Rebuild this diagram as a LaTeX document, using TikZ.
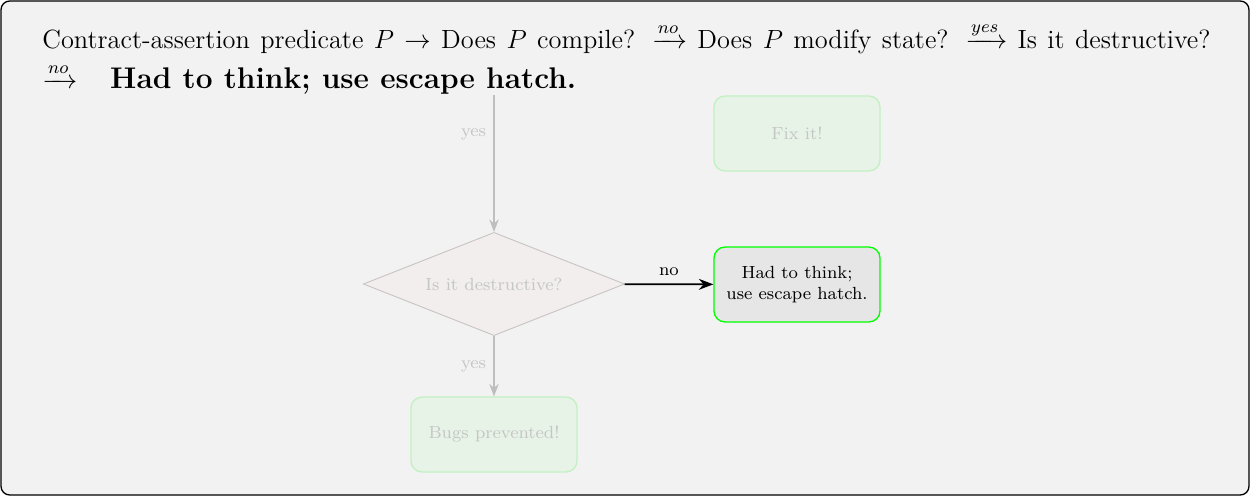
\documentclass[tikz,border=0pt]{standalone}
\usepackage{amsmath}
\usetikzlibrary{shapes.geometric,arrows.meta}

\definecolor{bgpanel}{HTML}{F2F2F2}
\definecolor{fadefill}{HTML}{E8F3E8}
\definecolor{fadeline}{HTML}{C2F0C2}
\definecolor{fadetext}{HTML}{C4C6C4}
\definecolor{fadearrow}{HTML}{BEBEBE}
\definecolor{diafill}{HTML}{F2EEEE}
\definecolor{dialine}{HTML}{C8C2C2}
\definecolor{hotfill}{HTML}{E6E6E6}

\tikzset{
  decision/.style={diamond, draw=dialine, fill=diafill, text=fadetext, font=\footnotesize,
    aspect=2.5, inner sep=0pt, minimum width=119pt, minimum height=47pt},
  outcome/.style={rectangle, rounded corners=5pt, draw=fadeline, fill=fadefill, text=fadetext,
    font=\footnotesize, align=center, minimum width=75.6pt, minimum height=34.1pt, semithick},
  hotbox/.style={outcome, draw=green, fill=hotfill, text=black},
  dimarrow/.style={-Stealth, draw=fadearrow, semithick},
  hotarrow/.style={-Stealth, thick},
  dimlabel/.style={font=\footnotesize, text=fadetext},
}

\begin{document}
\begin{tikzpicture}[x=0.016cm, y=-0.016cm]
\useasboundingbox (0,0) rectangle (1250,496);
\draw[fill=bgpanel, rounded corners=4pt, semithick] (1,1) rectangle (1249,495);

\node[anchor=north west, inner sep=0pt, text width=532pt, align=justify, font=\large] (title) at (42,22)
  {Contract-assertion predicate $P \rightarrow$ Does $P$ compile? $\xrightarrow{no}$ Does $P$ modify state? $\xrightarrow{yes}$ Is it destructive?\linebreak
   $\xrightarrow{no}$\hspace{15pt}\fontsize{13.6}{18}\selectfont\bfseries Had to think; use escape hatch.\par};

\node[decision] (destr) at (494,284) {Is it destructive?};
\node[hotbox] (hatch) at (797,284.5) {Had to think;\\ use escape hatch.};
\node[outcome] (fix) at (797,133.5) {Fix it!};
\node[outcome] (bugs) at (494,434.5) {Bugs prevented!};
\coordinate (modify) at (494,95);

\draw[dimarrow] (modify) -- node[dimlabel, left, pos=0.29] {yes} (destr);
\draw[hotarrow] (destr) -- node[above, font=\footnotesize] {no} (hatch);
\draw[dimarrow] (destr) -- node[dimlabel, left] {yes} (bugs);
\end{tikzpicture}
\end{document}
